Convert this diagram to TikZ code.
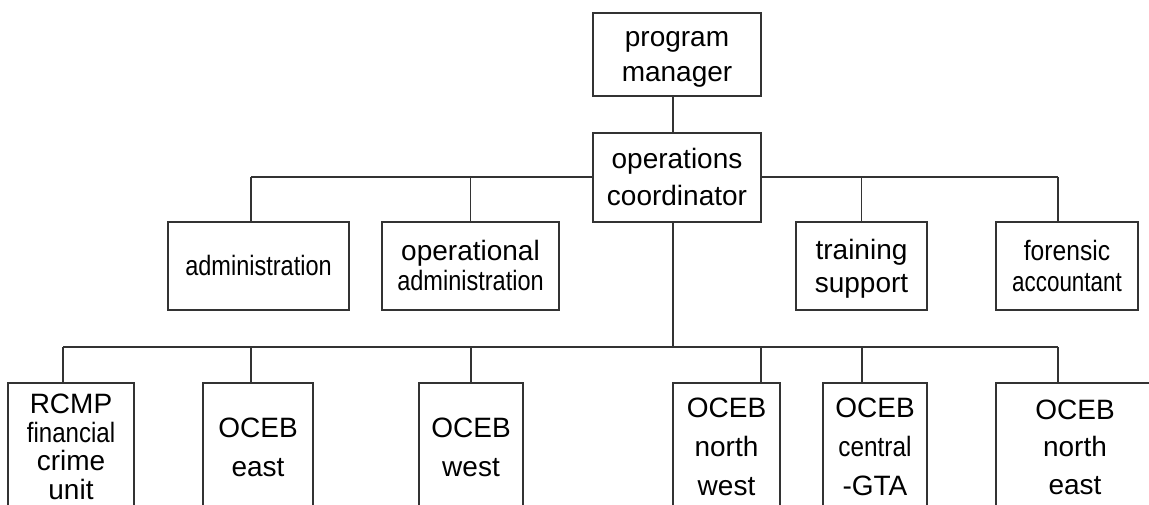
\documentclass[tikz,border=0pt]{standalone}
\usepackage{fontspec}
\setmainfont{Liberation Sans}
% let \baselineskip rule even when strutted lines would touch
\lineskiplimit=-100pt
\lineskip=0pt
% line strut with the font's ascent and descent, so every line box has the same size
\newcommand\Lstr{\rule[-0.212em]{0pt}{1.117em}}
\newcommand\narrow[2]{\scalebox{#1}[1]{#2}}
\begin{document}
\begin{tikzpicture}[x=1pt,y=-1pt,
  orgbox/.style={draw=black!80, line width=1.1pt, inner sep=0pt, align=center},
  lines/.style={font={\fontsize{28}{#1}\selectfont}},
  link/.style={draw=black!80, line width=1.1pt}]
\useasboundingbox (0,0) rectangle (1149,504);
\clip (0,0) rectangle (1149,504);

% top of the chart
\node[orgbox, lines=35, minimum width=168pt, minimum height=83pt] (pm) at (677,54.5)
  {\Lstr program\\\Lstr manager};
\node[orgbox, lines=37, minimum width=168pt, minimum height=89pt] (oc) at (677,177.5)
  {\Lstr operations\\\Lstr coordinator};

% staff units
\node[orgbox, lines=30, minimum width=181pt, minimum height=88pt] (adm) at (258.5,266)
  {\Lstr\narrow{0.84}{administration}};
\node[orgbox, lines=30, minimum width=177pt, minimum height=88pt] (opadm) at (470.5,266)
  {\Lstr operational\\\Lstr\narrow{0.84}{administration}};
\node[orgbox, lines=33, minimum width=131pt, minimum height=88pt] (train) at (861.5,266)
  {\Lstr training\\\Lstr support};
\node[orgbox, lines=31, minimum width=142pt, minimum height=88pt] (foren) at (1067,266)
  {\Lstr\narrow{0.88}{forensic}\\\Lstr\narrow{0.80}{accountant}};

% line units
\node[orgbox, lines=28.5, minimum width=126pt, minimum height=128pt] (rcmp) at (71,447)
  {\Lstr RCMP\\\Lstr\narrow{0.86}{financial}\\\Lstr crime\\\Lstr unit};
\node[orgbox, lines=39, minimum width=110pt, minimum height=128pt] (east) at (258,447)
  {\Lstr OCEB\\\Lstr east};
\node[orgbox, lines=39, minimum width=104pt, minimum height=128pt] (west) at (471,447)
  {\Lstr OCEB\\\Lstr west};
\node[orgbox, lines=39, minimum width=107pt, minimum height=128pt] (nw) at (726.5,447)
  {\Lstr OCEB\\\Lstr north\\\Lstr west};
\node[orgbox, lines=39, minimum width=104pt, minimum height=128pt] (cgta) at (875,447)
  {\Lstr OCEB\\\Lstr\narrow{0.87}{central}\\\Lstr -GTA};
\node[orgbox, lines=37.5, minimum width=158pt, minimum height=128pt] (ne) at (1075,447)
  {\Lstr OCEB\\\Lstr north\\\Lstr east};

% spine and the two buses
\coordinate (spine) at (673,0);
\coordinate (staffL) at (251,177);
\coordinate (staffR) at (1058,177);
\coordinate (d1) at (63,347);
\coordinate (d2) at (251,347);
\coordinate (d3) at (471,347);
\coordinate (d4) at (761,347);
\coordinate (d5) at (862,347);
\coordinate (d6) at (1058,347);

\draw[link] (pm.south -| spine) -- (oc.north -| spine);
\draw[link] (oc.south -| spine) -- (spine |- d1);

\draw[link] (staffL) -- (oc.west |- staffL);
\draw[link] (oc.east |- staffR) -- (staffR);
\draw[link] (staffL) -- (staffL |- adm.north);
\draw[link] (opadm.north |- staffL) -- (opadm.north);
\draw[link] (train.north |- staffL) -- (train.north);
\draw[link] (staffR) -- (staffR |- foren.north);

\draw[link] (d1) -- (d6);
\draw[link] (d1) -- (d1 |- rcmp.north);
\draw[link] (d2) -- (d2 |- east.north);
\draw[link] (d3) -- (d3 |- west.north);
\draw[link] (d4) -- (d4 |- nw.north);
\draw[link] (d5) -- (d5 |- cgta.north);
\draw[link] (d6) -- (d6 |- ne.north);
\end{tikzpicture}
\end{document}
